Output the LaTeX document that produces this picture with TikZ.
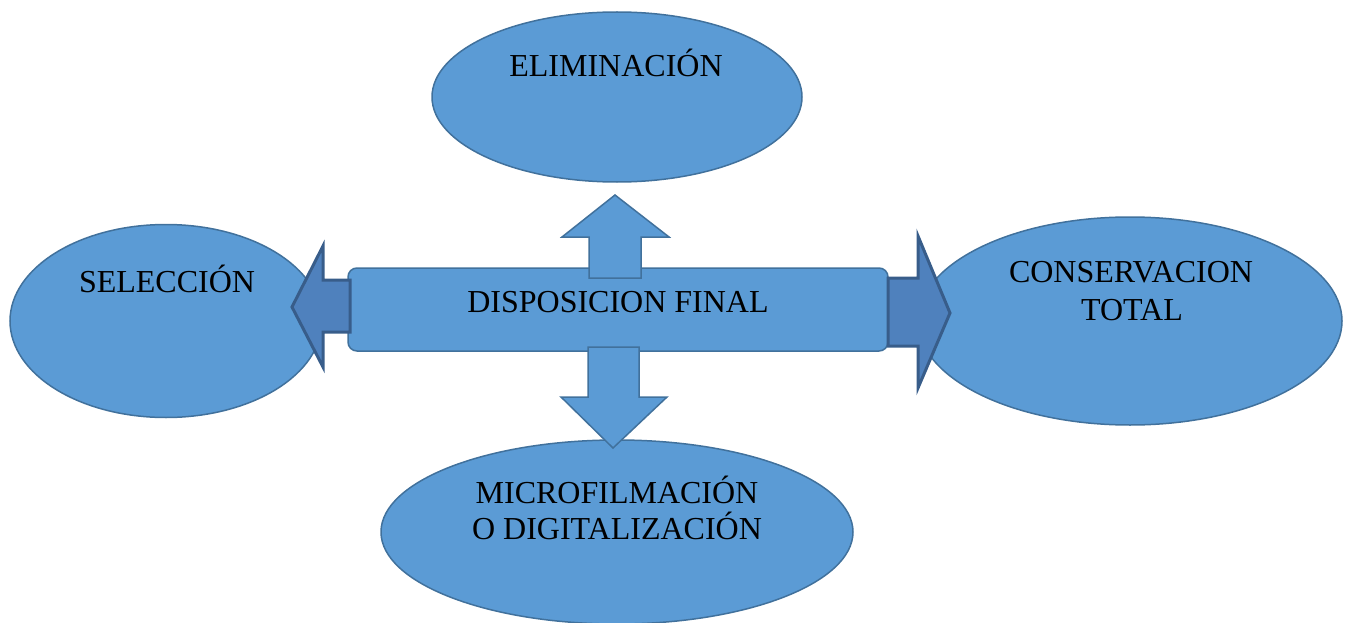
\documentclass[tikz,border=0pt]{standalone}
\usepackage{fontspec}
\setmainfont{Liberation Serif}
\usetikzlibrary{shapes.geometric}
\definecolor{fillblue}{HTML}{5B9BD5}
\definecolor{lineblue}{HTML}{41719C}
\definecolor{sidefill}{HTML}{4F81BD}
\definecolor{sideline}{HTML}{385D8A}
\begin{document}
\begin{tikzpicture}[x=1pt,y=-1pt,
  ell/.style={ellipse, draw=lineblue, fill=fillblue, line width=1.5pt, inner sep=0pt},
  box/.style={draw=lineblue, fill=fillblue, line width=1.5pt, rounded corners=9pt},
  vblock/.style={draw=lineblue, fill=fillblue, line width=1.5pt, line join=miter},
  hblock/.style={draw=sideline, fill=sidefill, line width=3pt, line join=miter},
  txt/.style={font=\fontsize{32}{38}\selectfont, anchor=base, inner sep=0pt}]
\useasboundingbox (0,0) rectangle (1346,623);
% ellipses
\node[ell, minimum width=370pt, minimum height=170pt] (elim) at (617,97) {};
\node[ell, minimum width=312pt, minimum height=193pt] (sel) at (166,321) {};
\node[ell, minimum width=424pt, minimum height=208pt] (cons) at (1130,321) {};
\node[ell, minimum width=472pt, minimum height=184pt] (micro) at (617,532) {};
% central box
\draw[box] (348,268) rectangle (888,351);
\coordinate (boxc) at (618,310);
% up arrow
\draw[vblock] (589,278) -- (589,237) -- (562,237) -- (615,195) -- (669,237) -- (641,237) -- (641,278) -- cycle;
% down arrow
\draw[vblock] (588,347) -- (588,397) -- (561,397) -- (613,448) -- (667,397) -- (639,397) -- (639,347) -- cycle;
% left arrow
\draw[hblock] (350,280) -- (323,280) -- (323,246) -- (292,307) -- (323,367) -- (323,332) -- (350,332) -- cycle;
% right arrow
\draw[hblock] (888,278) -- (918,278) -- (918,236) -- (950,313) -- (918,388) -- (918,346) -- (888,346) -- cycle;
% texts
\node[txt] (t1) at (616,77) {ELIMINACIÓN};
\node[txt] (t2) at (167,292) {SELECCIÓN};
\node[txt] (t3) at (1131,282) {CONSERVACION};
\node[txt] (t4) at (1132,320) {TOTAL};
\node[txt] (t5) at (617,503) {MICROFILMACIÓN};
\node[txt] (t6) at (617,539) {O DIGITALIZACIÓN};
\node[txt] (t7) at (618,312) {DISPOSICION FINAL};
\end{tikzpicture}
\end{document}
